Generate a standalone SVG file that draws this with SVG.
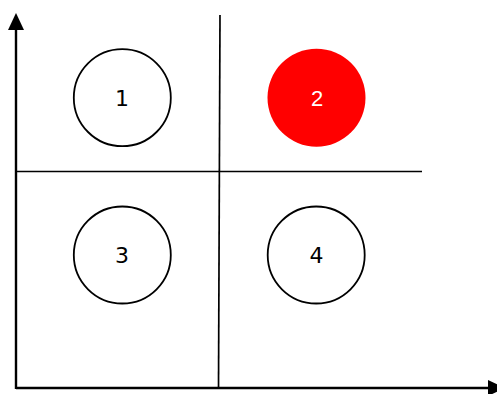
<svg xmlns="http://www.w3.org/2000/svg" width="497" height="394" viewBox="0 0 497 394">
  <defs>
    <style>
      .axis { stroke: #000; stroke-width: 2.4; fill: none; }
      .div { stroke: #000; stroke-width: 1.7; fill: none; }
      .node { fill: #fff; stroke: #000; stroke-width: 1.8; }
      .lbl { font-family: "DejaVu Sans", sans-serif; font-size: 22px; text-anchor: middle; fill: #000; }
      .lbl2 { font-family: "Liberation Sans", Arial, sans-serif; font-size: 22px; text-anchor: middle; fill: #fff; }
    </style>
  </defs>
  <rect width="497" height="394" fill="#fff"/>
  <g id="connectors">
    <line class="axis" x1="16" y1="389" x2="16" y2="28"/>
    <polygon points="16,13 8,30 24,30" fill="#000"/>
    <line class="axis" x1="16" y1="388" x2="490" y2="388"/>
    <polygon points="505,388 488,380 488,396" fill="#000"/>
    <line class="div" x1="220" y1="15" x2="218.5" y2="388"/>
    <line class="div" x1="16" y1="171.5" x2="422" y2="171.5"/>
  </g>
  <g id="node1">
    <circle class="node" cx="122.3" cy="97.7" r="48.5"/>
    <text class="lbl" x="122" y="106">1</text>
  </g>
  <g id="node2">
    <circle cx="316.5" cy="97.7" r="49" fill="#ff0000"/>
    <text class="lbl2" x="317" y="106">2</text>
  </g>
  <g id="node3">
    <circle class="node" cx="122.3" cy="255" r="48.5"/>
    <text class="lbl" x="122" y="263">3</text>
  </g>
  <g id="node4">
    <circle class="node" cx="316.2" cy="255" r="48.5"/>
    <text class="lbl" x="316.5" y="263">4</text>
  </g>
</svg>
